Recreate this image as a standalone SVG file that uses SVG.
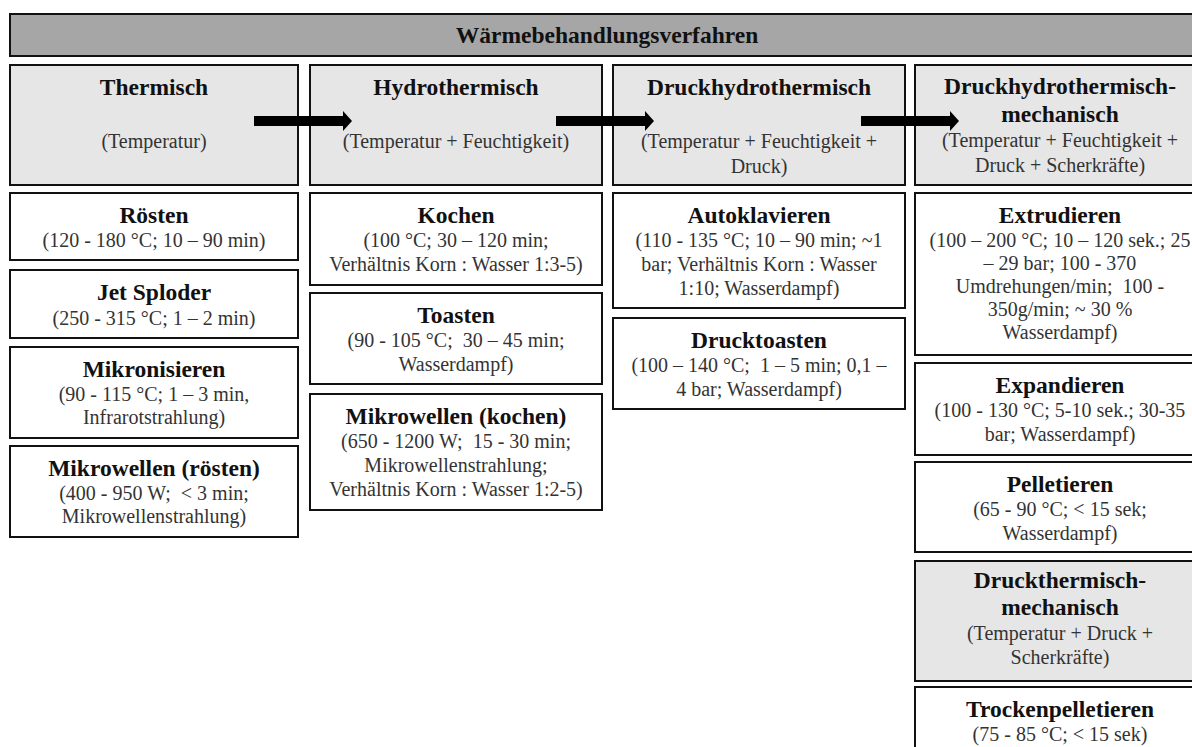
<svg xmlns="http://www.w3.org/2000/svg" width="1192" height="747" viewBox="0 0 1192 747">
<style>
  .box { fill: #ffffff; stroke: #111111; stroke-width: 2; }
  .hdr { fill: #e6e6e6; stroke: #111111; stroke-width: 2; }
  .top { fill: #a6a6a6; stroke: #111111; stroke-width: 2; }
  text { font-family: "Liberation Serif", "Times New Roman", serif; text-anchor: middle; white-space: pre; }
  .t { font-size: 23.5px; font-weight: bold; fill: #111111; }
  .s { font-size: 20px; fill: #333333; }
  .arrow { fill: #000000; }
</style>
<rect width="1192" height="747" fill="#ffffff"/>

<g id="title">
  <rect class="top" x="10" y="14" width="1200" height="42"/>
  <text class="t" x="607" y="43">Wärmebehandlungsverfahren</text>
</g>

<g id="thermisch">
  <rect class="hdr" x="10" y="65" width="288" height="120"/>
  <text class="t" x="154" y="95">Thermisch</text>
  <text class="s" x="154" y="148">(Temperatur)</text>
</g>
<g id="hydrothermisch">
  <rect class="hdr" x="310" y="65" width="292" height="120"/>
  <text class="t" x="456" y="95">Hydrothermisch</text>
  <text class="s" x="456" y="148">(Temperatur + Feuchtigkeit)</text>
</g>
<g id="druckhydrothermisch">
  <rect class="hdr" x="613" y="65" width="292" height="120"/>
  <text class="t" x="759" y="95">Druckhydrothermisch</text>
  <text class="s" x="759" y="148">(Temperatur + Feuchtigkeit +</text>
  <text class="s" x="759" y="173">Druck)</text>
</g>
<g id="druckhydrothermisch-mechanisch">
  <rect class="hdr" x="915" y="65" width="290" height="120"/>
  <text class="t" x="1060" y="94">Druckhydrothermisch-</text>
  <text class="t" x="1060" y="122">mechanisch</text>
  <text class="s" x="1060" y="147">(Temperatur + Feuchtigkeit +</text>
  <text class="s" x="1060" y="172">Druck + Scherkräfte)</text>
</g>

<g id="roesten">
  <rect class="box" x="10" y="193" width="288" height="67"/>
  <text class="t" x="154" y="223">Rösten</text>
  <text class="s" x="154" y="247">(120 - 180 °C; 10 – 90 min)</text>
</g>
<g id="jet-sploder">
  <rect class="box" x="10" y="270" width="288" height="68"/>
  <text class="t" x="154" y="300">Jet Sploder</text>
  <text class="s" x="154" y="325">(250 - 315 °C; 1 – 2 min)</text>
</g>
<g id="mikronisieren">
  <rect class="box" x="10" y="347" width="288" height="91"/>
  <text class="t" x="154" y="377">Mikronisieren</text>
  <text class="s" x="154" y="401">(90 - 115 °C; 1 – 3 min,</text>
  <text class="s" x="154" y="424">Infrarotstrahlung)</text>
</g>
<g id="mikrowellen-roesten">
  <rect class="box" x="10" y="446" width="288" height="91"/>
  <text class="t" x="154" y="476">Mikrowellen (rösten)</text>
  <text class="s" x="154" y="500">(400 - 950 W;  &lt; 3 min;</text>
  <text class="s" x="154" y="523">Mikrowellenstrahlung)</text>
</g>

<g id="kochen">
  <rect class="box" x="310" y="193" width="292" height="92"/>
  <text class="t" x="456" y="223">Kochen</text>
  <text class="s" x="456" y="247">(100 °C; 30 – 120 min;</text>
  <text class="s" x="456" y="271">Verhältnis Korn : Wasser 1:3-5)</text>
</g>
<g id="toasten">
  <rect class="box" x="310" y="293" width="292" height="91"/>
  <text class="t" x="456" y="323">Toasten</text>
  <text class="s" x="456" y="347">(90 - 105 °C;  30 – 45 min;</text>
  <text class="s" x="456" y="371">Wasserdampf)</text>
</g>
<g id="mikrowellen-kochen">
  <rect class="box" x="310" y="394" width="292" height="116"/>
  <text class="t" x="456" y="424">Mikrowellen (kochen)</text>
  <text class="s" x="456" y="448">(650 - 1200 W;  15 - 30 min;</text>
  <text class="s" x="456" y="472">Mikrowellenstrahlung;</text>
  <text class="s" x="456" y="496">Verhältnis Korn : Wasser 1:2-5)</text>
</g>

<g id="autoklavieren">
  <rect class="box" x="613" y="193" width="292" height="115"/>
  <text class="t" x="759" y="223">Autoklavieren</text>
  <text class="s" x="759" y="247">(110 - 135 °C; 10 – 90 min; ~1</text>
  <text class="s" x="759" y="271">bar; Verhältnis Korn : Wasser</text>
  <text class="s" x="759" y="295">1:10; Wasserdampf)</text>
</g>
<g id="drucktoasten">
  <rect class="box" x="613" y="318" width="292" height="91"/>
  <text class="t" x="759" y="348">Drucktoasten</text>
  <text class="s" x="759" y="372">(100 – 140 °C;  1 – 5 min; 0,1 –</text>
  <text class="s" x="759" y="396">4 bar; Wasserdampf)</text>
</g>

<g id="extrudieren">
  <rect class="box" x="915" y="193" width="290" height="162"/>
  <text class="t" x="1060" y="223">Extrudieren</text>
  <text class="s" x="1060" y="247">(100 – 200 °C; 10 – 120 sek.; 25</text>
  <text class="s" x="1060" y="270">– 29 bar; 100 - 370</text>
  <text class="s" x="1060" y="293">Umdrehungen/min;  100 -</text>
  <text class="s" x="1060" y="316">350g/min; ~ 30 %</text>
  <text class="s" x="1060" y="339">Wasserdampf)</text>
</g>
<g id="expandieren">
  <rect class="box" x="915" y="363" width="290" height="92"/>
  <text class="t" x="1060" y="393">Expandieren</text>
  <text class="s" x="1060" y="417">(100 - 130 °C; 5-10 sek.; 30-35</text>
  <text class="s" x="1060" y="441">bar; Wasserdampf)</text>
</g>
<g id="pelletieren">
  <rect class="box" x="915" y="462" width="290" height="90"/>
  <text class="t" x="1060" y="492">Pelletieren</text>
  <text class="s" x="1060" y="516">(65 - 90 °C; &lt; 15 sek;</text>
  <text class="s" x="1060" y="540">Wasserdampf)</text>
</g>
<g id="druckthermisch-mechanisch">
  <rect class="hdr" x="915" y="561" width="290" height="120"/>
  <text class="t" x="1060" y="588">Druckthermisch-</text>
  <text class="t" x="1060" y="615">mechanisch</text>
  <text class="s" x="1060" y="640">(Temperatur + Druck +</text>
  <text class="s" x="1060" y="664">Scherkräfte)</text>
</g>
<g id="trockenpelletieren">
  <rect class="box" x="915" y="687" width="290" height="80"/>
  <text class="t" x="1060" y="717">Trockenpelletieren</text>
  <text class="s" x="1060" y="741">(75 - 85 °C; &lt; 15 sek)</text>
</g>

<g id="connectors">
  <polygon class="arrow" points="254,116 343,116 343,111 352,121 343,131 343,126 254,126"/>
  <polygon class="arrow" points="556,116 645,116 645,111 654,121 645,131 645,126 556,126"/>
  <polygon class="arrow" points="861,116 950,116 950,111 959,121 950,131 950,126 861,126"/>
</g>
</svg>
